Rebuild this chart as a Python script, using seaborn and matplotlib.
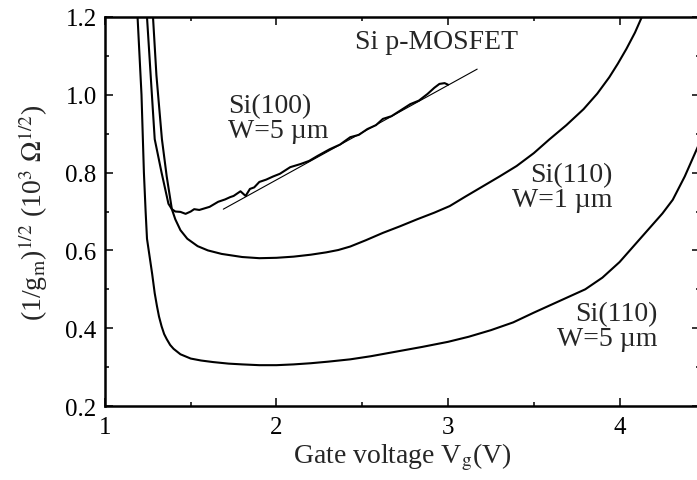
import matplotlib
matplotlib.use("Agg")
import matplotlib.pyplot as plt
from matplotlib.ticker import MultipleLocator
import seaborn as sns
import pandas as pd

# Si(110), W = 5 um
vg_110_w5 = [1.19, 1.213, 1.227, 1.237, 1.245, 1.26, 1.275, 1.29, 1.303, 1.315, 1.33, 1.345,
             1.36, 1.38, 1.40, 1.44, 1.50, 1.56, 1.63, 1.72, 1.80, 1.90, 2.00, 2.10, 2.20,
             2.30, 2.43, 2.55, 2.70, 2.85, 3.00, 3.12, 3.25, 3.38, 3.50, 3.60, 3.70, 3.80,
             3.90, 4.00, 4.06, 4.12, 4.18, 4.25, 4.31, 4.38, 4.47]
r_110_w5 = [1.20, 1.00, 0.80, 0.70, 0.63, 0.585, 0.54, 0.49, 0.457, 0.43, 0.405, 0.385,
            0.372, 0.357, 0.347, 0.333, 0.322, 0.317, 0.313, 0.309, 0.307, 0.305, 0.305, 0.307, 0.31,
            0.314, 0.32, 0.328, 0.34, 0.352, 0.365, 0.378, 0.395, 0.415, 0.44, 0.46, 0.48, 0.50,
            0.53, 0.57, 0.60, 0.63, 0.66, 0.695, 0.73, 0.79, 0.88]

# Si(110), W = 1 um
vg_110_w1 = [1.28, 1.30, 1.332, 1.36, 1.39, 1.41, 1.44, 1.48, 1.54, 1.60, 1.68, 1.80, 1.90,
             2.00, 2.10, 2.20, 2.29, 2.36, 2.43, 2.52, 2.62, 2.72, 2.82, 2.92, 3.01, 3.10,
             3.20, 3.30, 3.40, 3.50, 3.59, 3.69, 3.79, 3.87, 3.94, 3.99, 4.04, 4.09, 4.13]
r_110_w1 = [1.20, 1.05, 0.886, 0.79, 0.706, 0.68, 0.652, 0.63, 0.611, 0.60, 0.591, 0.583, 0.580,
            0.581, 0.584, 0.589, 0.595, 0.601, 0.61, 0.626, 0.645, 0.662, 0.68, 0.697, 0.714, 0.738,
            0.764, 0.79, 0.817, 0.85, 0.885, 0.922, 0.963, 1.003, 1.045, 1.08, 1.118, 1.16, 1.20]

# Si(100), W = 5 um
vg_100_w5 = [1.245, 1.265, 1.29, 1.33, 1.37, 1.39, 1.41, 1.44, 1.47, 1.50, 1.52, 1.55,
             1.58, 1.61, 1.66, 1.70, 1.73, 1.75, 1.79, 1.82, 1.845, 1.87, 1.90, 1.94,
             1.98, 2.02, 2.08, 2.14, 2.19, 2.24, 2.31, 2.37, 2.43, 2.48, 2.53, 2.58,
             2.62, 2.67, 2.72, 2.78, 2.83, 2.88, 2.92, 2.95, 2.98, 3.00]
r_100_w5 = [1.20, 1.06, 0.886, 0.80, 0.72, 0.706, 0.70, 0.699, 0.694, 0.70, 0.706, 0.704,
            0.708, 0.712, 0.725, 0.731, 0.737, 0.740, 0.752, 0.740, 0.758, 0.762, 0.776, 0.782,
            0.790, 0.797, 0.814, 0.822, 0.830, 0.843, 0.860, 0.872, 0.891, 0.897, 0.912, 0.922,
            0.938, 0.945, 0.959, 0.976, 0.985, 1.002, 1.018, 1.028, 1.030, 1.026]

# straight-line fit to the Si(100) curve
fit_vg = [1.69, 3.17]
fit_r = [0.706, 1.066]

sns.set_theme(style="ticks")
plt.rcParams["font.family"] = ["Liberation Serif", "DejaVu Serif"]
plt.rcParams["mathtext.fontset"] = "stix"

fig = plt.figure(figsize=(6.97, 4.81), dpi=100)
fig.patch.set_facecolor("white")

ax = fig.add_axes([0.1506, 0.1538, 0.8537, 0.8088])
ax.set_facecolor("white")

curves = [
    (vg_110_w5, r_110_w5),
    (vg_110_w1, r_110_w1),
    (vg_100_w5, r_100_w5),
]
for vg, r in curves:
    df = pd.DataFrame({"vg": vg, "r": r})
    sns.lineplot(data=df, x="vg", y="r", ax=ax, color="black", lw=1.5,
                 estimator=None, sort=False)

fit_df = pd.DataFrame({"vg": fit_vg, "r": fit_r})
sns.lineplot(data=fit_df, x="vg", y="r", ax=ax, color="black", lw=0.8,
             estimator=None, sort=False)

ax.set_xlim(1, 4.469)
ax.set_ylim(0.2, 1.2)
ax.xaxis.set_minor_locator(MultipleLocator(0.5))
ax.yaxis.set_minor_locator(MultipleLocator(0.1))
ax.set_yticks([0.2, 0.4, 0.6, 0.8, 1.0, 1.2])
ax.set_yticklabels(["0.2", "0.4", "0.6", "0.8", "1.0", "1.2"])
ax.set_xticks([1, 2, 3, 4])
ax.set_xticklabels(["1", "2", "3", "4"])

for side in ["top", "right", "bottom", "left"]:
    ax.spines[side].set_visible(True)
    ax.spines[side].set_linewidth(1.8)
    ax.spines[side].set_color("black")

ax.tick_params(which="both", direction="in", top=True, right=True,
               colors="black", labelsize=18)
ax.tick_params(which="major", length=6, width=1.1, pad=6)
ax.tick_params(which="minor", length=3, width=1.1)
ax.tick_params(axis="x", which="major", pad=7)

ax.set_xlabel(r"Gate voltage V$_{\mathrm{g}}$(V)", fontsize=20, labelpad=2)
ax.set_ylabel(r"(1/g$_{\mathrm{m}}$)$^{1/2}$ (10$^{3}$ $\Omega^{1/2}$)", fontsize=20)
ax.yaxis.set_label_coords(-0.092, 0.5)

ax.text(2.46, 1.138, "Si p-MOSFET", fontsize=20, ha="left", va="center")
ax.text(1.72, 0.94, "Si(100)\nW=5 µm", fontsize=20, ha="left", va="center",
        linespacing=1.0)
ax.text(3.96, 0.762, "Si(110)\nW=1 µm", fontsize=20, ha="right", va="center",
        linespacing=1.0, multialignment="right")
ax.text(4.22, 0.405, "Si(110)\nW=5 µm", fontsize=20, ha="right", va="center",
        linespacing=1.0, multialignment="right")

fig.savefig("out.png", dpi=100)
